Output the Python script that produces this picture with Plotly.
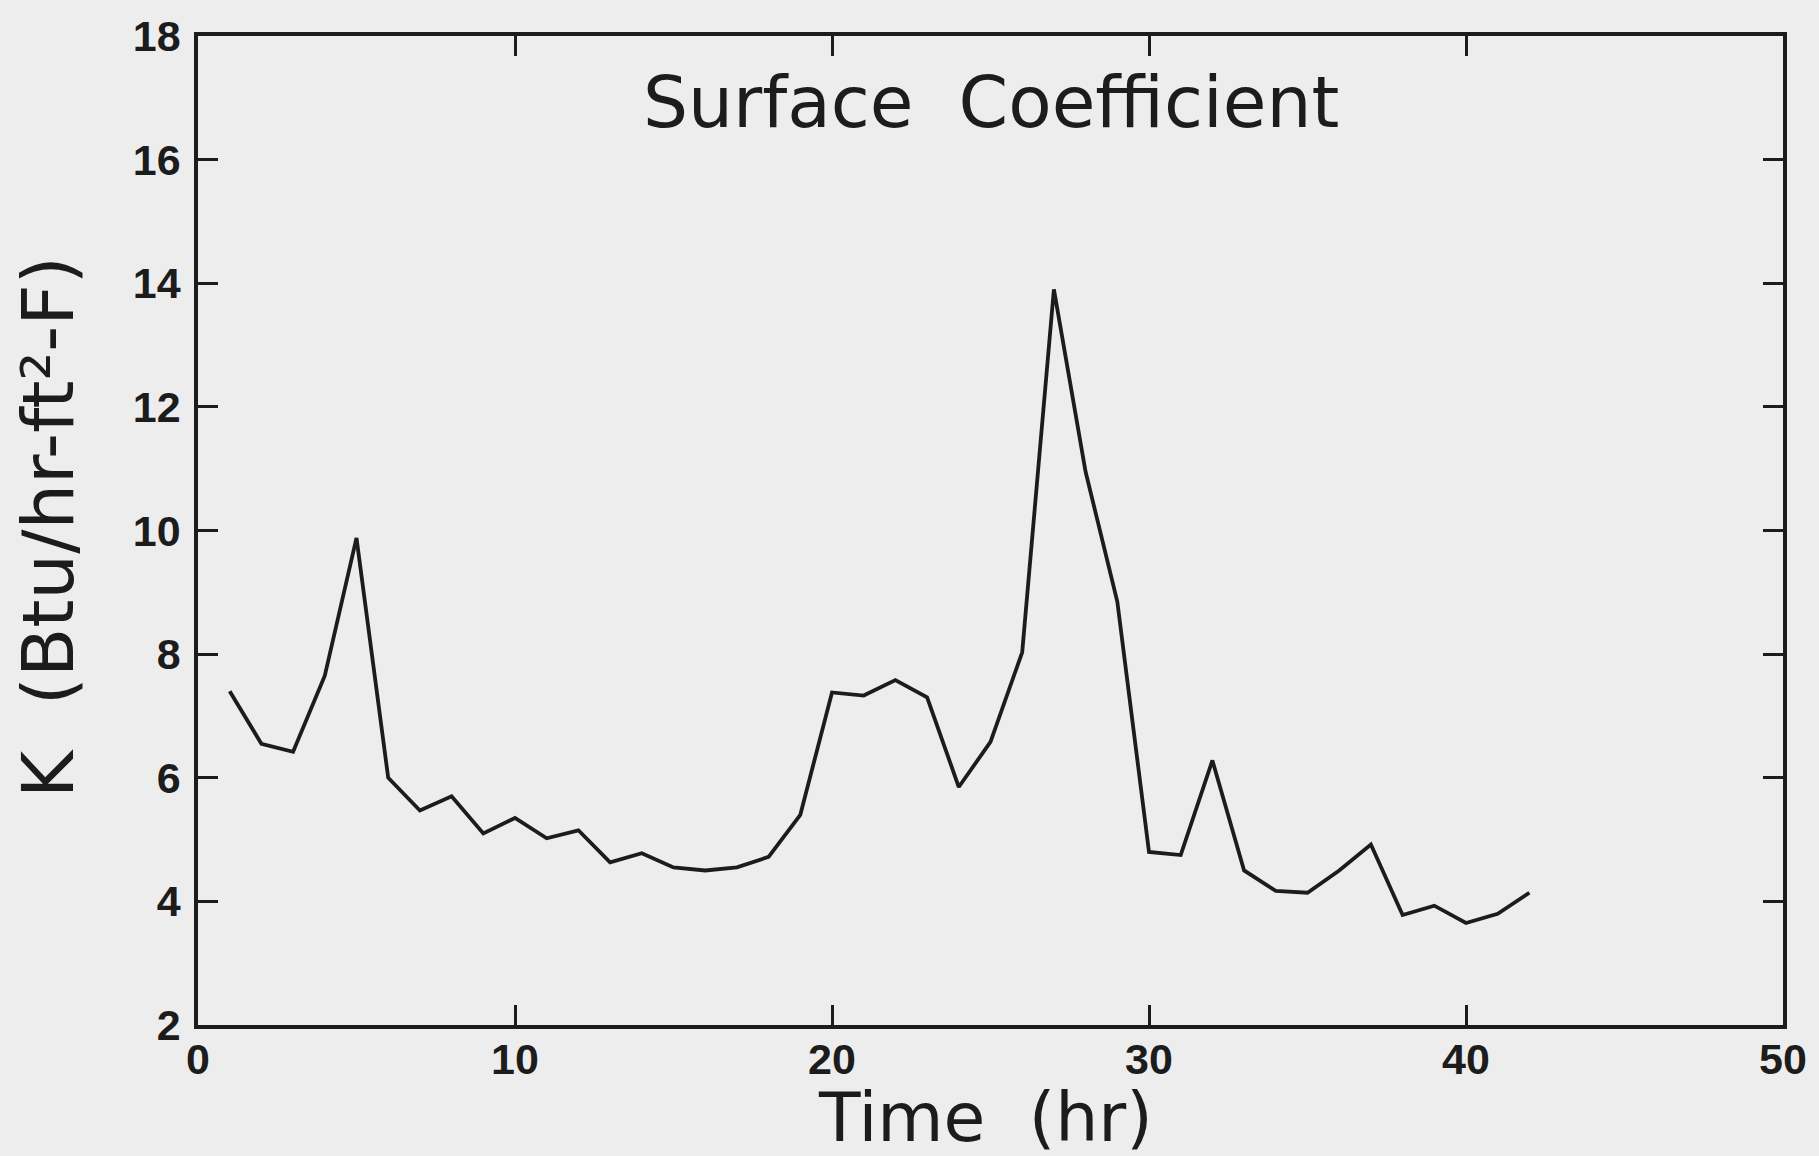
import plotly.graph_objects as go

time_hr = list(range(1, 43))
k_values = [7.40, 6.55, 6.42, 7.65, 9.88, 6.00, 5.47, 5.70, 5.10, 5.35,
            5.02, 5.15, 4.63, 4.78, 4.55, 4.50, 4.55, 4.72, 5.40, 7.38,
            7.33, 7.58, 7.30, 5.85, 6.58, 8.03, 13.90, 10.95, 8.85, 4.80,
            4.75, 6.28, 4.50, 4.17, 4.14, 4.50, 4.92, 3.78, 3.93, 3.65,
            3.80, 4.14]

x_ticks = [0, 10, 20, 30, 40, 50]
y_ticks = [2, 4, 6, 8, 10, 12, 14, 16, 18]

ink = "#1c1c1c"
bg = "#ededed"

fig = go.Figure()
fig.add_trace(go.Scatter(x=time_hr, y=k_values, mode="lines",
                         line=dict(color=ink, width=3.8), showlegend=False))

axis_common = dict(showline=True, linecolor=ink, linewidth=3.5, mirror="allticks",
                   ticks="inside", ticklen=20, tickwidth=3, tickcolor=ink,
                   showgrid=False, zeroline=False,
                   tickfont=dict(family="Liberation Sans", size=43, color=ink, weight="bold"))

fig.update_xaxes(range=[0, 50], tickvals=x_ticks, ticktext=[str(v) for v in x_ticks],
                 ticklabelstandoff=-6, **axis_common)
fig.update_yaxes(range=[2, 18], tickvals=y_ticks, ticktext=[str(v) for v in y_ticks],
                 ticklabelstandoff=5, **axis_common)

fig.add_annotation(text="Surface  Coefficient", xref="paper", yref="paper", x=0.5, y=0.933,
                   showarrow=False, xanchor="center", yanchor="middle",
                   font=dict(family="DejaVu Sans", size=71, color=ink))
fig.add_annotation(text="Time  (hr)", xref="paper", yref="paper", x=0.497, y=-0.094,
                   showarrow=False, xanchor="center", yanchor="middle",
                   font=dict(family="DejaVu Sans", size=68, color=ink))
fig.add_annotation(text="K  (Btu/hr-ft²-F)", xref="paper", yref="paper", x=-0.0949, y=0.503,
                   showarrow=False, xanchor="center", yanchor="middle", textangle=-90,
                   font=dict(family="DejaVu Sans", size=72, color=ink))

fig.update_layout(width=1819, height=1156, paper_bgcolor=bg, plot_bgcolor=bg,
                  margin=dict(l=198, r=30, t=36, b=131))

fig.write_html("out.html", config={"displayModeBar": False},
               post_script="document.body.style.margin='0';document.body.style.background='%s';" % bg)
